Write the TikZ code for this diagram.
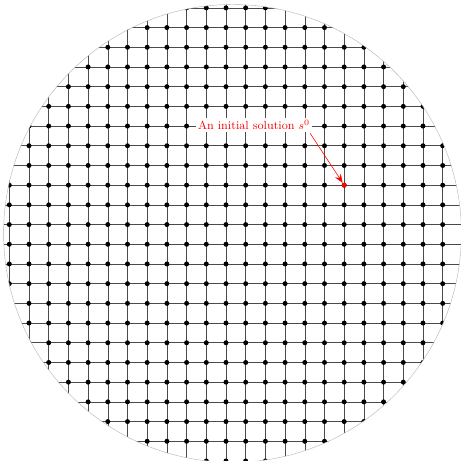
\documentclass[tikz,border=0pt]{standalone}
\usepackage{xcolor}
\usepackage{tikz}
\usepackage{amsmath}
\usetikzlibrary{
  arrows.meta,
  positioning
}
\definecolor{nbEdge}{HTML}{4A4A4A}
\definecolor{nbRim}{HTML}{B4B4B4}
\definecolor{nbInit}{HTML}{FF0000}
\tikzset{
  gridline/.style={line width=0.42pt, nbEdge},
  rim/.style={line width=0.3pt, nbRim},
  sol/.style={circle, fill=black, inner sep=0pt, minimum size=3.6pt},
  initsol/.style={sol, fill=nbInit},
  tag/.style={font=\fontsize{8.5pt}{10pt}\selectfont, text=nbInit, fill=white, inner sep=1.5pt},
  pointer/.style={-{Stealth[length=2.2mm, width=1.7mm]}, line width=0.4pt, nbInit}
}

\begin{document}
\begin{tikzpicture}[x=5mm, y=5mm]
  \useasboundingbox (-0.472,0) rectangle (22.93,23.4);
  % neighbourhood grid, cut to the search region
  \begin{scope}
    \clip (11.33,11.55) circle (11.62);
    \foreach \j in {0,...,23}
      \draw[gridline] (-1,\j) -- (23,\j);
    \foreach \i in {0,...,22}
      \draw[gridline] (\i,-1) -- (\i,24);
    \foreach \i in {0,...,22}
      \foreach \j in {0,...,23}
        \node[sol] (p-\i-\j) at (\i,\j) {};
  \end{scope}
  \draw[rim] (11.33,11.55) circle (11.62);
  \node[initsol] (s0) at (17,14) {};
  \node[tag] (init) at (12.42,17.06) {An initial solution $s^0$};
  \draw[pointer] ([xshift=-1.5pt,yshift=-1pt]init.south east) -- (s0);
\end{tikzpicture}
\end{document}
